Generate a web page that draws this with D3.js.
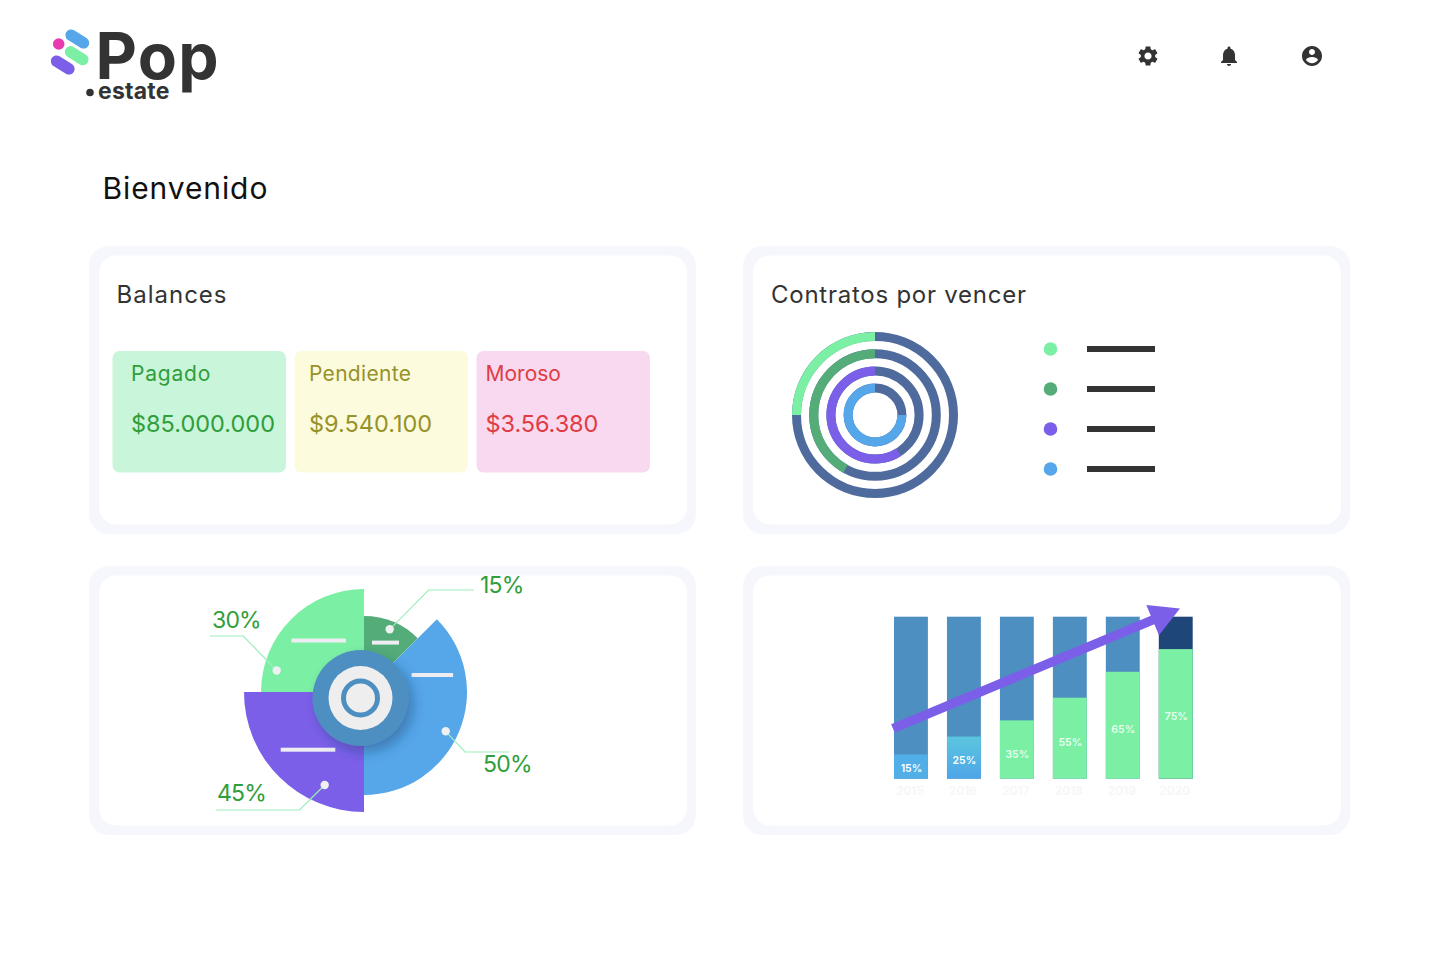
<!DOCTYPE html>
<html>
<head>
<meta charset="utf-8">
<script src="https://cdn.jsdelivr.net/npm/d3@7"></script>
<style>
  html, body { margin: 0; background: #fff; }
  svg { display: block; font-family: "Inter", "Noto Sans", sans-serif; }
</style>
</head>
<body>
<div id="chart"></div>
<script>
const balanceLabels = ["Pagado", "Pendiente", "Moroso"];
const balanceValues = ["$85.000.000", "$9.540.100", "$3.56.380"];

const ringNames = ["Contrato A", "Contrato B", "Contrato C", "Contrato D"];
const ringValues = [25, 42, 59, 75];

const pieLabels = ["15%", "50%", "45%", "30%"];
const pieSweeps = [45, 135, 90, 90];
const pieReach = [76, 103, 120, 103];

const barYears = ["2015", "2016", "2017", "2018", "2019", "2020"];
const barLabels = ["15%", "25%", "35%", "55%", "65%", "75%"];
const barValues = [15, 26, 36, 50, 66, 80];
const barLabelLevels = [6.6, 11.5, 15.2, 22.7, 30.7, 38.7];

const trendYears = [2014.66, 2020.08];
const trendValues = [31, 105];

const GREEN = "#7bf0a5";
const DARK_GREEN = "#54ad78";
const PURPLE = "#7b5fe8";
const BLUE = "#56a6ea";
const RING_BASE = "#4f6b9e";
const RING_COLORS = [GREEN, DARK_GREEN, PURPLE, BLUE];
const PIE_COLORS = [DARK_GREEN, BLUE, PURPLE, GREEN];
const TEXT_GREEN = "#2f9e3b";

const svg = d3.select("#chart").append("svg")
  .attr("width", 1437)
  .attr("height", 967);

const defs = svg.append("defs");

const shadow = defs.append("filter").attr("id", "hub-shadow")
  .attr("x", "-40%").attr("y", "-40%").attr("width", "200%").attr("height", "200%");
shadow.append("feDropShadow")
  .attr("dx", 5).attr("dy", 6).attr("stdDeviation", 6)
  .attr("flood-color", "#1d3c66").attr("flood-opacity", 0.4);

const barGradient = defs.append("linearGradient").attr("id", "bar-low")
  .attr("x1", 0).attr("x2", 0).attr("y1", 0).attr("y2", 1);
barGradient.append("stop").attr("offset", "0%").attr("stop-color", "#5cc6de");
barGradient.append("stop").attr("offset", "100%").attr("stop-color", "#4ea5e8");

function drawCard(x, y, w, h) {
  svg.append("rect").attr("x", x).attr("y", y).attr("width", w).attr("height", h)
    .attr("rx", 20).attr("fill", "#f5f7fd");
  svg.append("rect").attr("x", x + 10).attr("y", y + 9.5).attr("width", w - 19).attr("height", h - 19)
    .attr("rx", 17).attr("fill", "#fff");
}

function drawHeader() {
  const logo = svg.append("g");
  const pills = [
    { x: 77.3, y: 39, c: BLUE },
    { x: 76.7, y: 55.7, c: GREEN },
    { x: 62.7, y: 65, c: PURPLE },
  ];
  pills.forEach(p => {
    logo.append("rect")
      .attr("x", -13).attr("y", -5.7).attr("width", 26).attr("height", 11.4).attr("rx", 5.7)
      .attr("transform", `translate(${p.x},${p.y}) rotate(32)`)
      .attr("fill", p.c);
  });
  logo.append("circle").attr("cx", 58.7).attr("cy", 44).attr("r", 5.8).attr("fill", "#e93bb0");

  logo.append("text").attr("x", 95.5).attr("y", 79)
    .attr("font-size", 64).attr("font-weight", 700).attr("letter-spacing", 1.3)
    .attr("fill", "#333").text("Pop");
  logo.append("circle").attr("cx", 90).attr("cy", 92.5).attr("r", 3.8).attr("fill", "#333");
  logo.append("text").attr("x", 98).attr("y", 99)
    .attr("font-size", 23).attr("font-weight", 700).attr("letter-spacing", 0.2)
    .attr("fill", "#333").text("estate");

  const icons = [
    { x: 1148, d: "M19.14,12.94c0.04-0.3,0.06-0.61,0.06-0.94c0-0.32-0.02-0.64-0.07-0.94l2.03-1.58c0.18-0.14,0.23-0.41,0.12-0.61l-1.92-3.32c-0.12-0.22-0.37-0.29-0.59-0.22l-2.39,0.96c-0.5-0.38-1.03-0.7-1.62-0.94L14.4,2.81c-0.04-0.24-0.24-0.41-0.48-0.41h-3.84c-0.24,0-0.43,0.17-0.47,0.41L9.25,5.35C8.66,5.59,8.12,5.92,7.63,6.29L5.24,5.33c-0.22-0.08-0.47,0-0.59,0.22L2.74,8.87C2.62,9.08,2.66,9.34,2.86,9.48l2.03,1.58C4.84,11.36,4.8,11.69,4.8,12s0.02,0.64,0.07,0.94l-2.03,1.58c-0.18,0.14-0.23,0.41-0.12,0.61l1.92,3.32c0.12,0.22,0.37,0.29,0.59,0.22l2.39-0.96c0.5,0.38,1.03,0.7,1.62,0.94l0.36,2.54c0.05,0.24,0.24,0.41,0.48,0.41h3.84c0.24,0,0.44-0.17,0.47-0.41l0.36-2.54c0.59-0.24,1.13-0.56,1.62-0.94l2.39,0.96c0.22,0.08,0.47,0,0.59-0.22l1.92-3.32c0.12-0.22,0.07-0.47-0.12-0.61L19.14,12.94z M12,15.6c-1.98,0-3.6-1.62-3.6-3.6s1.62-3.6,3.6-3.6s3.6,1.62,3.6,3.6S13.98,15.6,12,15.6z" },
    { x: 1229, d: "M12 22c1.1 0 2-.9 2-2h-4c0 1.1.89 2 2 2zm6-6v-5c0-3.07-1.64-5.64-4.5-6.32V4c0-.83-.67-1.5-1.5-1.5s-1.5.67-1.5 1.5v.68C7.63 5.36 6 7.92 6 11v5l-2 2v1h16v-1l-2-2z" },
    { x: 1312, d: "M12 2C6.48 2 2 6.48 2 12s4.48 10 10 10 10-4.48 10-10S17.52 2 12 2zm0 3c1.66 0 3 1.34 3 3s-1.34 3-3 3-3-1.34-3-3 1.34-3 3-3zm0 14.2c-2.5 0-4.71-1.28-6-3.22.03-1.99 4-3.08 6-3.08 1.99 0 5.97 1.09 6 3.08-1.29 1.94-3.5 3.22-6 3.22z" },
  ];
  icons.forEach(icon => {
    svg.append("path").attr("d", icon.d)
      .attr("transform", `translate(${icon.x - 12},44)`)
      .attr("fill", "#333");
  });

  svg.append("text").attr("x", 102.5).attr("y", 199)
    .attr("font-size", 30).attr("letter-spacing", 0.9).attr("fill", "#111").text("Bienvenido");
}

function drawBalances() {
  svg.append("text").attr("x", 116.5).attr("y", 303)
    .attr("font-size", 24).attr("letter-spacing", 1).attr("fill", "#333").text("Balances");

  const tileX = d3.scaleBand().domain(balanceLabels).range([112.5, 650]).paddingInner(0.047);
  const fills = ["#c9f5da", "#fdfbdd", "#f8d9ef"];
  const inks = [TEXT_GREEN, "#96922a", "#e03c44"];
  const textShift = [18.5, 14.5, 9];
  const labelSpacing = [0.8, 0.3, 0];

  balanceLabels.forEach((label, i) => {
    const x = tileX(label);
    svg.append("rect").attr("x", x).attr("y", 351)
      .attr("width", tileX.bandwidth()).attr("height", 121.5)
      .attr("rx", 7).attr("fill", fills[i]);
    svg.append("text").attr("x", x + textShift[i]).attr("y", 381)
      .attr("font-size", 21).attr("letter-spacing", labelSpacing[i]).attr("fill", inks[i]).text(label);
    svg.append("text").attr("x", x + textShift[i]).attr("y", 432)
      .attr("font-size", 23.5).attr("letter-spacing", i === 2 ? -0.1 : 0).attr("fill", inks[i]).text(balanceValues[i]);
  });
}

function drawRings() {
  svg.append("text").attr("x", 771).attr("y", 303)
    .attr("font-size", 24).attr("letter-spacing", 0.75).attr("fill", "#333").text("Contratos por vencer");

  const g = svg.append("g").attr("transform", "translate(875,415)");
  const share = d3.scaleLinear().domain([0, 100]).range([0, 2 * Math.PI]);
  const arc = d3.arc();

  ringNames.forEach((name, i) => {
    const outer = 83 - i * 17.2;
    const inner = outer - 9;
    g.append("circle").attr("r", (outer + inner) / 2)
      .attr("fill", "none").attr("stroke", RING_BASE).attr("stroke-width", 9);
    g.append("path")
      .attr("d", arc({
        innerRadius: inner,
        outerRadius: outer,
        startAngle: -share(ringValues[i]),
        endAngle: 0,
      }))
      .attr("fill", RING_COLORS[i]);
  });

  const legendY = d3.scalePoint().domain(ringNames).range([349, 469]);
  ringNames.forEach((name, i) => {
    svg.append("circle").attr("cx", 1050.5).attr("cy", legendY(name)).attr("r", 6.8)
      .attr("fill", RING_COLORS[i]);
    svg.append("rect").attr("x", 1087).attr("y", legendY(name) - 3)
      .attr("width", 68).attr("height", 6).attr("fill", "#333");
  });
}

function drawPie() {
  const g = svg.append("g").attr("transform", "translate(364,692)");
  const pie = d3.pie().sort(null).value(d => d)(pieSweeps);
  const arc = d3.arc().innerRadius(0);

  pie.forEach((slice, i) => {
    g.append("path")
      .attr("d", arc({
        outerRadius: pieReach[i],
        startAngle: slice.startAngle,
        endAngle: slice.endAngle,
      }))
      .attr("fill", PIE_COLORS[i]);
  });

  // white dashes, one per slice
  const dashes = [[8, -51.4, 27], [47.6, -19, 41.5], [-83.3, 55.7, 54.6], [-72.5, -53.5, 54.5]];
  dashes.forEach(([x, y, w]) => {
    g.append("rect").attr("x", x).attr("y", y).attr("width", w).attr("height", 4)
      .attr("fill", "#eeeef2");
  });

  const leaderLine = d3.line();
  const leaders = [
    [[25.7, -62.7], [64.6, -102], [110, -102]],
    [[81.7, 39.3], [101, 60], [145, 60]],
    [[-39.3, 93], [-64.5, 118], [-148, 118]],
    [[-87.3, -21.5], [-120.7, -56], [-154, -56]],
  ];
  const labelAt = [[116, -99], [119, 80], [-147, 109], [-152, -64]];
  const dotAt = [[25.7, -62.7], [81.7, 39.3], [-39.3, 93], [-87.3, -21.5]];

  pieLabels.forEach((label, i) => {
    g.append("path").attr("d", leaderLine(leaders[i]))
      .attr("fill", "none").attr("stroke", "#9ceebb").attr("stroke-width", 1.2);
    g.append("circle").attr("cx", dotAt[i][0]).attr("cy", dotAt[i][1]).attr("r", 4.2)
      .attr("fill", "#eef0f2");
    g.append("text").attr("x", labelAt[i][0]).attr("y", labelAt[i][1])
      .attr("font-size", 23).attr("letter-spacing", -0.8).attr("fill", TEXT_GREEN).text(label);
  });

  const hub = svg.append("g").attr("transform", "translate(360.5,698)");
  hub.append("circle").attr("r", 48).attr("fill", "#4d8fc1").attr("filter", "url(#hub-shadow)");
  hub.append("circle").attr("r", 32).attr("fill", "#eeeeee");
  hub.append("circle").attr("r", 17).attr("fill", "none").attr("stroke", "#4d8fc1").attr("stroke-width", 5);
}

function drawBars() {
  const x = d3.scaleBand().domain(barYears).range([894, 1192.7]).paddingInner(0.36);
  const y = d3.scaleLinear().domain([0, 100]).range([778.7, 616.7]);
  const g = svg.append("g");

  g.selectAll(".bar-back")
    .data(barYears)
    .enter()
    .append("rect")
    .attr("class", "bar-back")
    .attr("x", d => x(d))
    .attr("y", y(100))
    .attr("width", x.bandwidth())
    .attr("height", y(0) - y(100))
    .attr("fill", (d, i) => i === barYears.length - 1 ? "#1f4679" : "#4d8fc1");

  g.selectAll(".bar-front")
    .data(barValues)
    .enter()
    .append("rect")
    .attr("class", "bar-front")
    .attr("x", (d, i) => x(barYears[i]))
    .attr("y", d => y(d))
    .attr("width", x.bandwidth())
    .attr("height", d => y(0) - y(d))
    .attr("fill", (d, i) => i === 0 ? "#52aee6" : i === 1 ? "url(#bar-low)" : GREEN);

  g.selectAll(".bar-label")
    .data(barLabels)
    .enter()
    .append("text")
    .attr("class", "bar-label")
    .attr("x", (d, i) => x(barYears[i]) + x.bandwidth() / 2 + 0.5)
    .attr("y", (d, i) => y(barLabelLevels[i]))
    .attr("dy", "0.35em")
    .attr("text-anchor", "middle")
    .attr("font-size", 10.5)
    .attr("font-weight", 600)
    .attr("fill", "#fff")
    .attr("fill-opacity", (d, i) => i < 2 ? 1 : 0.85)
    .text(d => d);

  g.selectAll(".bar-year")
    .data(barYears)
    .enter()
    .append("text")
    .attr("class", "bar-year")
    .attr("x", d => x(d) + x.bandwidth() / 2 - 1)
    .attr("y", 795)
    .attr("text-anchor", "middle")
    .attr("font-size", 12)
    .attr("font-weight", 600)
    .attr("fill", "#f6f6f7")
    .text(d => d);

  // trend arrow, built from its two ends
  const tx = d3.scaleLinear().domain([2015, 2020])
    .range([x("2015") + x.bandwidth() / 2, x("2020") + x.bandwidth() / 2]);
  const x0 = tx(trendYears[0]), y0 = y(trendValues[0]);
  const x1 = tx(trendYears[1]), y1 = y(trendValues[1]);
  const len = Math.hypot(x1 - x0, y1 - y0);
  const ux = (x1 - x0) / len, uy = (y1 - y0) / len;
  const nx = -uy, ny = ux;
  const bx = x1 - ux * 29.7, by = y1 - uy * 29.7;
  const shaft = 4.6, head = 16.4;
  const arrow = [
    [x0 + nx * shaft, y0 + ny * shaft],
    [bx + nx * shaft, by + ny * shaft],
    [bx + nx * head, by + ny * head],
    [x1, y1],
    [bx - nx * head, by - ny * head],
    [bx - nx * shaft, by - ny * shaft],
    [x0 - nx * shaft, y0 - ny * shaft],
  ];
  g.append("path").attr("d", d3.line()(arrow) + "Z").attr("fill", PURPLE);
}

drawHeader();
drawCard(89, 246, 607, 288);
drawCard(743, 246, 607, 288);
drawCard(89, 566, 607, 269);
drawCard(743, 566, 607, 269);
drawBalances();
drawRings();
drawPie();
drawBars();
</script>
</body>
</html>
